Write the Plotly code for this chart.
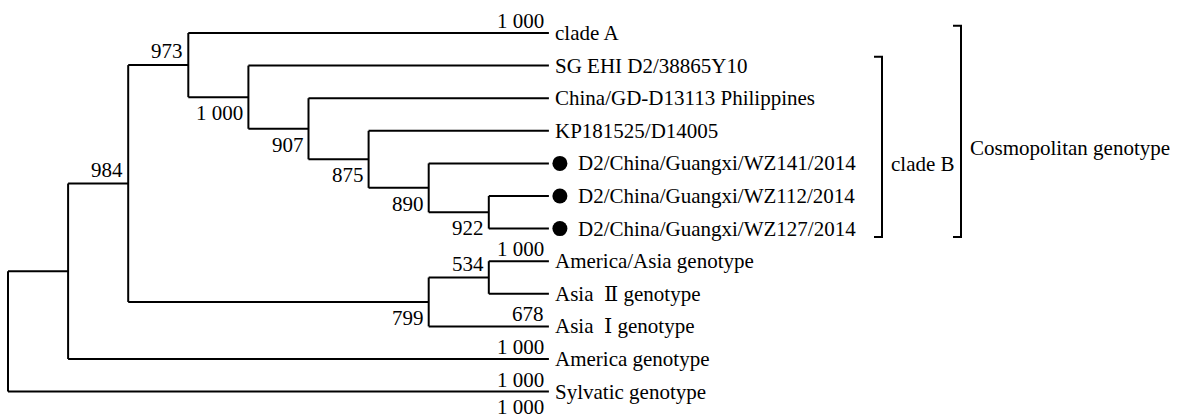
import plotly.graph_objects as go

# ---------------- data ----------------
leaf_names = [
    "clade A",
    "SG EHI D2/38865Y10",
    "China/GD-D13113 Philippines",
    "KP181525/D14005",
    "D2/China/Guangxi/WZ141/2014",
    "D2/China/Guangxi/WZ112/2014",
    "D2/China/Guangxi/WZ127/2014",
    "America/Asia genotype",
    "Asia Ⅱ genotype",
    "Asia Ⅰ genotype",
    "America genotype",
    "Sylvatic genotype",
]
leaf_marked = [False, False, False, False, True, True, True, False, False, False, False, False]
tip_depth = 9

internal_ids = ["root", "n1", "n984", "n973", "n1000", "n907", "n875", "n890", "n922", "n799", "n534"]
internal_depth = [0, 1, 2, 3, 4, 5, 6, 7, 8, 7, 8]
internal_children = [
    ["n1", "Sylvatic genotype"],
    ["n984", "America genotype"],
    ["n973", "n799"],
    ["clade A", "n1000"],
    ["SG EHI D2/38865Y10", "n907"],
    ["China/GD-D13113 Philippines", "n875"],
    ["KP181525/D14005", "n890"],
    ["D2/China/Guangxi/WZ141/2014", "n922"],
    ["D2/China/Guangxi/WZ112/2014", "D2/China/Guangxi/WZ127/2014"],
    ["n534", "Asia Ⅰ genotype"],
    ["America/Asia genotype", "Asia Ⅱ genotype"],
]
internal_support = [None, None, 984, 973, 1000, 907, 875, 890, 922, 799, 534]
internal_side = [None, None, "above", "above", "below", "below", "below", "below", "below", "below", "above"]

tip_support_leaf = ["clade A", "America/Asia genotype", "Asia Ⅰ genotype",
                    "America genotype", "Sylvatic genotype", "Sylvatic genotype"]
tip_support_value = [1000, 1000, 678, 1000, 1000, 1000]
tip_support_side = ["above", "above", "above", "above", "above", "below"]

clade_b_leaves = leaf_names[1:7]
cosmo_leaves = leaf_names[0:7]

# ---------------- layout constants ----------------
W, H = 1181, 416
x0_px, unit_px = 8, 60.1
y0_px, row_px = 33, 32.6
FONT = "Liberation Serif, 'Times New Roman', 'Noto Sans CJK SC', serif"
FS = 21
NUMERAL_FONT = "DejaVu Serif, Liberation Serif, serif"


def fmt(v):
    return f"{v:,}".replace(",", " ")


def display_text(name):
    # roman numerals drawn in a serif font that has them, with the spacing of the original
    nb = "\u00a0"
    if "Ⅱ" in name:
        a, b = name.split("Ⅱ")
        return (a.rstrip() + nb + nb + f'<span style="font-family:{NUMERAL_FONT}">Ⅱ</span>'
                + nb + b.lstrip())
    if "Ⅰ" in name:
        a, b = name.split("Ⅰ")
        return (a.rstrip() + nb + nb + f'<span style="font-family:{NUMERAL_FONT}">Ⅰ</span>'
                + nb + b.lstrip())
    return name


# positions
pos = {}
for i, n in enumerate(leaf_names):
    pos[n] = (tip_depth, i)
for k in reversed(range(len(internal_ids))):
    ys = [pos[c][1] for c in internal_children[k]]
    pos[internal_ids[k]] = (internal_depth[k], sum(ys) / len(ys))

# edges
ex, ey = [], []
for k, nid in enumerate(internal_ids):
    nx, ny = pos[nid]
    ys = [pos[c][1] for c in internal_children[k]]
    ex += [nx, nx, None]
    ey += [min(ys), max(ys), None]
    for c in internal_children[k]:
        cx, cy = pos[c]
        ex += [nx, cx, None]
        ey += [cy, cy, None]

fig = go.Figure()
fig.add_trace(go.Scatter(x=ex, y=ey, mode="lines",
                         line=dict(color="black", width=2), hoverinfo="skip"))

# markers for the new sequences
mk_off = 11 / unit_px
mx = [tip_depth + mk_off for n, m in zip(leaf_names, leaf_marked) if m]
my = [pos[n][1] for n, m in zip(leaf_names, leaf_marked) if m]
fig.add_trace(go.Scatter(x=mx, y=my, mode="markers",
                         marker=dict(symbol="circle", size=15, color="black"),
                         hoverinfo="skip"))

ann = []
# leaf labels
for n, m in zip(leaf_names, leaf_marked):
    x, y = pos[n]
    ann.append(dict(x=x, y=y, text=display_text(n), xanchor="left", yanchor="middle",
                    xshift=27 if m else 4, yshift=0, showarrow=False,
                    font=dict(family=FONT, size=FS, color="black")))

# internal support labels
for k, nid in enumerate(internal_ids):
    if internal_support[k] is None:
        continue
    x, y = pos[nid]
    ann.append(dict(x=x, y=y, text=fmt(internal_support[k]), xanchor="right", yanchor="middle",
                    xshift=-3, yshift=14 if internal_side[k] == "above" else -16,
                    showarrow=False, font=dict(family=FONT, size=FS, color="black")))

# tip support labels
for n, v, s in zip(tip_support_leaf, tip_support_value, tip_support_side):
    x, y = pos[n]
    ann.append(dict(x=x, y=y, text=fmt(v), xanchor="right", yanchor="middle",
                    xshift=-3, yshift=12 if s == "above" else -15,
                    showarrow=False, font=dict(family=FONT, size=FS, color="black")))


# brackets
def bracket(leaves, x_px, top_pad, bot_pad, tick_px=8):
    ys = [pos[n][1] for n in leaves]
    xb = (x_px - x0_px) / unit_px
    xt = (x_px - tick_px - x0_px) / unit_px
    t, b = min(ys) - top_pad, max(ys) + bot_pad
    return dict(type="path", xref="x", yref="y",
                path=f"M {xt} {t} L {xb} {t} L {xb} {b} L {xt} {b}",
                line=dict(color="black", width=2))


shapes = [bracket(clade_b_leaves, 882, 0.27, 0.26), bracket(cosmo_leaves, 961, 0.22, 0.26)]

ann.append(dict(x=(889 - x0_px) / unit_px, y=(164 - y0_px) / row_px, text="clade B",
                xanchor="left", yanchor="middle", showarrow=False,
                font=dict(family=FONT, size=FS, color="black")))
ann.append(dict(x=(968 - x0_px) / unit_px, y=(148 - y0_px) / row_px, text="Cosmopolitan genotype",
                xanchor="left", yanchor="middle", showarrow=False,
                font=dict(family=FONT, size=FS, color="black")))

fig.update_layout(
    width=W, height=H,
    margin=dict(l=0, r=0, t=0, b=0, pad=0),
    paper_bgcolor="white", plot_bgcolor="white",
    showlegend=False,
    xaxis=dict(range=[-x0_px / unit_px, (W - x0_px) / unit_px], visible=False, fixedrange=True),
    yaxis=dict(range=[(H - y0_px) / row_px, -y0_px / row_px], visible=False, fixedrange=True),
    annotations=ann, shapes=shapes,
)

fig.write_html("out.html", config={"displayModeBar": False},
               post_script="document.body.style.margin='0';document.body.style.overflow='hidden';")
